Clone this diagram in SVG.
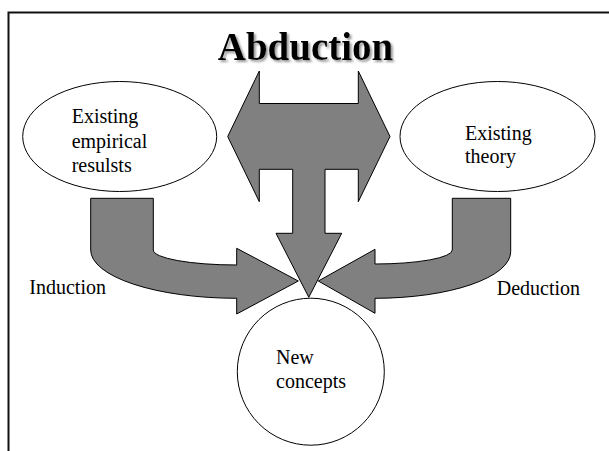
<svg xmlns="http://www.w3.org/2000/svg" width="609" height="451" viewBox="0 0 609 451">
  <defs>
    <filter id="title-shadow" x="-10%" y="-30%" width="120%" height="160%">
      <feDropShadow dx="2" dy="2" stdDeviation="0.8" flood-color="#808080" flood-opacity="0.8"/>
    </filter>
  </defs>
  <style>
    .node { fill: #ffffff; stroke: #000000; stroke-width: 1; }
    .arrow { fill: #808080; stroke: #000000; stroke-width: 1; stroke-linejoin: miter; }
    text { font-family: "Liberation Serif", "Times New Roman", serif; }
    .label { font-size: 20px; fill: #000000; }
    .title { font-size: 39px; font-weight: bold; fill: #000000; }
    .frame { fill: none; stroke: #111111; stroke-width: 2; }
  </style>

  <rect width="609" height="451" fill="#ffffff"/>

  <!-- slide frame: top and left edges -->
  <path class="frame" d="M 8.5 451 L 8.5 12.5 L 609 12.5"/>

  <!-- heading with soft drop shadow -->
  <g id="title">
    <text class="title" x="305.5" y="59.5" text-anchor="middle" filter="url(#title-shadow)">Abduction</text>
  </g>

  <!-- connectors: block arrows -->
  <g id="connectors">
    <!-- abduction: double-headed arrow with stem pointing down -->
    <path id="abduction-arrow" class="arrow" d="M 259.3 71 L 259.3 103.5 L 358.3 103.5 L 358.3 71 L 390 136.5 L 358.3 201.7 L 358.3 169.3 L 325 169.3 L 325 233.3 L 341.7 233.3 L 308.8 297.3 L 276 233.3 L 292.7 233.3 L 292.7 169.3 L 259.3 169.3 L 259.3 201.7 L 227.7 136.5 Z"/>
    <!-- induction: bent arrow from empirical results -->
    <path id="induction-arrow" class="arrow" d="M 90.7 198.3 L 153.3 198.3 L 153.3 250 A 83.4 15 0 0 0 236.7 265 L 236.7 248.3 L 298.3 281 L 236.7 314 L 236.7 298.3 A 146 48.3 0 0 1 90.7 250 Z"/>
    <!-- deduction: bent arrow from existing theory -->
    <path id="deduction-arrow" class="arrow" d="M 510.7 198.3 L 452.3 198.3 L 452.3 250 A 77.3 14 0 0 1 375 264 L 375 249.3 L 318.3 281 L 375 313.3 L 375 298.3 A 135.7 46.6 0 0 0 510.7 251.7 Z"/>
    <text class="label" x="29.3" y="293.5">Induction</text>
    <text class="label" x="496.7" y="295">Deduction</text>
  </g>

  <g id="empirical-results">
    <ellipse class="node" cx="119.7" cy="136.5" rx="97" ry="55"/>
    <text class="label" x="71.7" y="123.3">Existing</text>
    <text class="label" x="71.7" y="147.5">empirical</text>
    <text class="label" x="71.7" y="171.7">resulsts</text>
  </g>

  <g id="existing-theory">
    <ellipse class="node" cx="497.5" cy="136.5" rx="97.5" ry="55"/>
    <text class="label" x="465" y="140">Existing</text>
    <text class="label" x="465" y="163">theory</text>
  </g>

  <g id="new-concepts">
    <circle class="node" cx="310.8" cy="371.7" r="73.5"/>
    <text class="label" x="276" y="364">New</text>
    <text class="label" x="276" y="388.3">concepts</text>
  </g>
</svg>
